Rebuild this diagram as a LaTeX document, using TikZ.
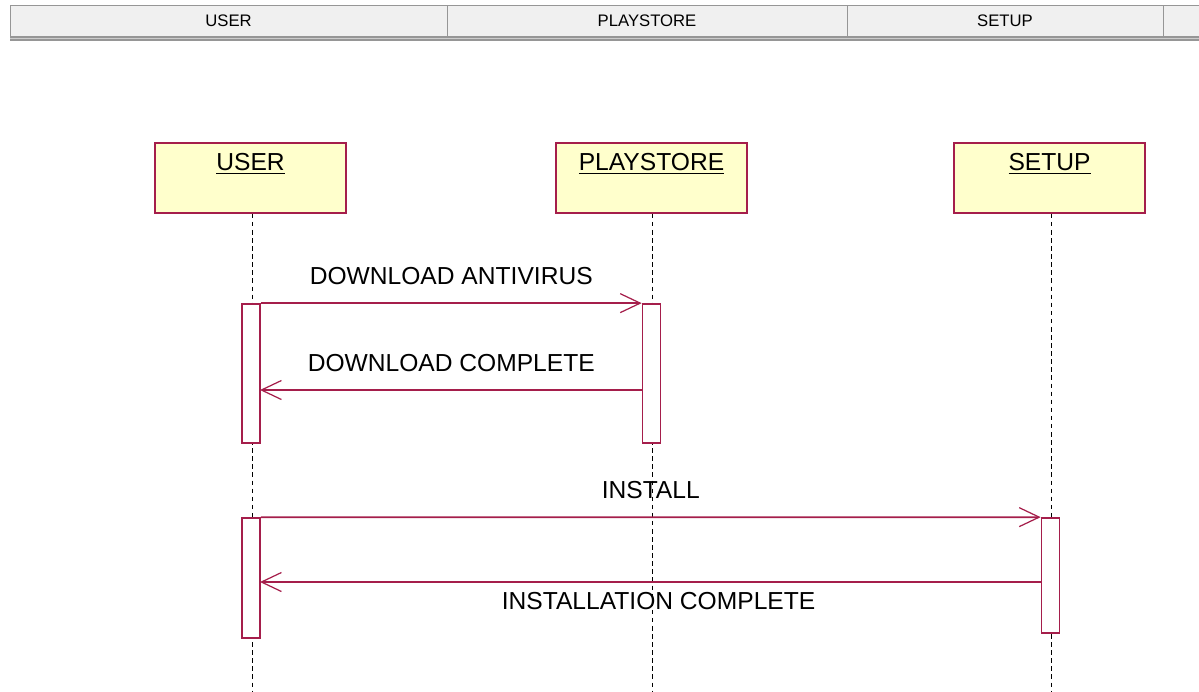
\documentclass[tikz,border=0pt]{standalone}
\usepackage{fontspec}
\setmainfont{Liberation Sans}
\usetikzlibrary{arrows.meta}
\definecolor{umlred}{RGB}{165,30,75}
\definecolor{umlfill}{RGB}{255,255,204}
\definecolor{hdgray}{RGB}{240,240,240}
\definecolor{hdline}{RGB}{150,150,150}
\tikzset{
  hdcell/.style={fill=hdgray,draw=hdline,minimum height=0.62cm,inner sep=0pt,font=\fontsize{9.5}{11}\selectfont},
  obj/.style={fill=umlfill,draw=umlred,line width=0.9pt,minimum width=3.82cm,minimum height=1.4cm,inner sep=0pt},
  title/.style={anchor=north,yshift=-6.2pt,inner sep=0pt,font=\fontsize{14}{16}\selectfont},
  act/.style={fill=white,draw=umlred,line width=1pt,minimum width=0.36cm,inner sep=0pt},
  life/.style={dash pattern=on 2.6pt off 2pt,line width=0.55pt},
  msg/.style={draw=umlred,line width=1pt,-{Straight Barb[length=0.4cm,width=0.38cm,line width=0.7pt]}},
  lbl/.style={inner sep=0pt,text depth=0pt,font=\fontsize{14}{16}\selectfont}
}
\begin{document}
\begin{tikzpicture}[x=0.02cm,y=-0.02cm]
\useasboundingbox (0,0) rectangle (1199,691);
\node[hdcell,minimum width=8.74cm](h1) at (228.5,20.5){USER};
\node[hdcell,minimum width=8cm](h2) at (647,20.5){PLAYSTORE};
\node[hdcell,minimum width=6.32cm](h3) at (1005,20.5){SETUP};
\node[hdcell,minimum width=0.72cm](h4) at (1181,20.5){};
\fill[hdline] (10,36) rectangle (1199,41);
\draw[gray!40,line width=0.6pt] (10,38.5) -- (1199,38.5);
\node[obj](user) at (250.5,178){};
\node[obj](store) at (651.5,178){};
\node[obj](setup) at (1049.5,178){};
\node[title] at (user.north){\underline{USER}};
\node[title] at (store.north){\underline{PLAYSTORE}};
\node[title] at (setup.north){\underline{SETUP}};
\coordinate (e1) at (252,691);
\coordinate (e2) at (652,691);
\coordinate (e3) at (1051,691);
\draw[life] (e1 |- user.south) -- (e1);
\draw[life] (e2 |- store.south) -- (e2);
\draw[life] (e3 |- setup.south) -- (e3);
\node[act,minimum height=2.78cm](u1) at (251,373.5){};
\node[act,minimum height=2.78cm](s1) at (651.5,373.5){};
\node[act,minimum height=2.4cm](u2) at (251,578){};
\node[act,minimum height=2.3cm](t1) at (1050.5,575.5){};
\coordinate (m2a) at (651.5-9,390);
\coordinate (m2b) at (251+9,390);
\coordinate (m4a) at (1050.5-9,582);
\coordinate (m4b) at (251+9,582);
\path
  (u1.north east) edge[msg] node[lbl,above=10pt] {DOWNLOAD ANTIVIRUS}(s1.north west)
  (m2a) edge[msg] node[lbl,above=10pt] {DOWNLOAD COMPLETE}(m2b)
  (u2.north east) edge[msg] node[lbl,above=10pt] {INSTALL}(t1.north west)
  (m4a) edge[msg] node[lbl,below=5.5pt,pos=0.49] {INSTALLATION COMPLETE}(m4b);
\end{tikzpicture}
\end{document}
